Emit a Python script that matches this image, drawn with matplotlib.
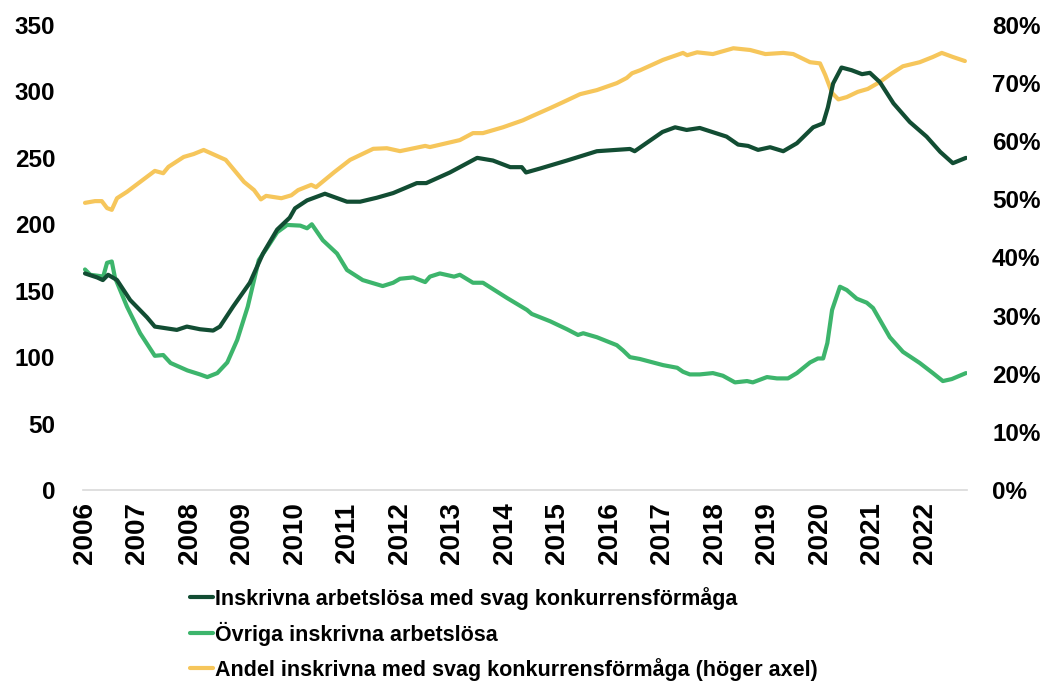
import matplotlib
matplotlib.use("Agg")
import matplotlib.pyplot as plt
from matplotlib.ticker import FuncFormatter

# dark green: inskrivna med svag konkurrensförmåga (tusental)
svag_t = [2006.0, 2006.23, 2006.34, 2006.44, 2006.61, 2006.86, 2007.18, 2007.33, 2007.75, 2007.94,
          2008.19, 2008.44, 2008.57, 2008.82, 2009.14, 2009.39, 2009.66, 2009.9, 2010.0, 2010.23,
          2010.57, 2010.99, 2011.24, 2011.56, 2011.87, 2012.32, 2012.5, 2012.95, 2013.47, 2013.77,
          2014.1, 2014.32, 2014.4, 2014.67, 2015.18, 2015.75, 2016.38, 2016.47, 2017.0, 2017.24,
          2017.46, 2017.71, 2018.22, 2018.44, 2018.63, 2018.82, 2019.05, 2019.3, 2019.56, 2019.87,
          2020.06, 2020.15, 2020.25, 2020.41, 2020.6, 2020.8, 2020.95, 2021.14, 2021.4, 2021.71,
          2022.03, 2022.29, 2022.53, 2022.78]
svag_v = [163, 160, 158, 162, 158, 143, 130, 123, 120.5, 123,
          121, 120, 123, 138, 156, 178, 196, 205, 212, 218,
          223, 217, 217, 220, 223.5, 231, 231, 239, 250, 248,
          243, 243, 239, 242, 248, 255, 256.7, 255, 269.5, 273,
          271, 272.5, 266, 260, 259, 256, 258, 255, 261, 273,
          276, 288, 306, 318, 316, 313, 314, 307, 291, 277,
          266, 254.5, 246, 250]

# light green: övriga inskrivna arbetslösa (tusental)
ovr_t = [2006.0, 2006.1, 2006.29, 2006.34, 2006.42, 2006.51, 2006.57, 2006.8, 2007.05, 2007.33,
         2007.49, 2007.63, 2007.95, 2008.19, 2008.33, 2008.52, 2008.71, 2008.9, 2009.1, 2009.31,
         2009.48, 2009.66, 2009.85, 2010.1, 2010.23, 2010.32, 2010.53, 2010.8, 2010.99, 2011.29,
         2011.67, 2011.87, 2012.0, 2012.25, 2012.48, 2012.57, 2012.76, 2013.03, 2013.14, 2013.39,
         2013.58, 2013.9, 2014.04, 2014.42, 2014.51, 2014.86, 2015.18, 2015.39, 2015.49, 2015.75,
         2016.13, 2016.25, 2016.38, 2016.57, 2017.01, 2017.28, 2017.39, 2017.52, 2017.71, 2017.96,
         2018.15, 2018.38, 2018.61, 2018.72, 2018.99, 2019.18, 2019.39, 2019.56, 2019.81, 2019.96,
         2020.06, 2020.14, 2020.23, 2020.38, 2020.51, 2020.7, 2020.89, 2021.01, 2021.33, 2021.58,
         2021.9, 2022.15, 2022.34, 2022.51, 2022.78]
ovr_v = [166, 162, 161, 159.6, 171, 172, 160, 138, 118, 101,
         101.6, 95.6, 90, 87, 85, 88, 96, 113, 138, 173,
         183, 194, 199.5, 199, 197, 200, 188, 178, 165.6, 158,
         153.5, 156, 159, 160, 156.5, 160.6, 163, 160.6, 162, 156,
         156, 148, 144.5, 135.5, 132.5, 127, 121, 116.7, 118, 115,
         109, 105, 100, 98.6, 94, 92, 89, 87, 87, 88,
         86, 81, 82, 81, 85, 84, 84, 88, 96, 99,
         99, 110.6, 135.5, 153, 150.5, 144, 141, 137, 115, 104,
         95.6, 88, 82, 83.5, 88]

# yellow: andel med svag konkurrensförmåga (%), höger axel
andel_t = [2006.0, 2006.19, 2006.32, 2006.42, 2006.51, 2006.61, 2006.8, 2007.05, 2007.33, 2007.49,
           2007.59, 2007.88, 2008.07, 2008.26, 2008.68, 2009.03, 2009.22, 2009.35, 2009.45, 2009.74,
           2009.93, 2010.06, 2010.31, 2010.4, 2010.75, 2011.05, 2011.49, 2011.75, 2012.0, 2012.48,
           2012.57, 2013.14, 2013.39, 2013.58, 2013.96, 2014.34, 2014.51, 2014.86, 2015.1, 2015.43,
           2015.75, 2016.13, 2016.32, 2016.42, 2016.57, 2017.01, 2017.39, 2017.47, 2017.66, 2017.96,
           2018.35, 2018.67, 2018.96, 2019.3, 2019.49, 2019.81, 2020.0, 2020.1, 2020.23, 2020.35,
           2020.51, 2020.72, 2020.91, 2021.14, 2021.37, 2021.58, 2021.9, 2022.15, 2022.32, 2022.53,
           2022.76]
andel_v = [49.4, 49.7, 49.7, 48.5, 48.2, 50.2, 51.3, 53, 54.9, 54.5,
           55.6, 57.3, 57.8, 58.5, 56.8, 53, 51.6, 50, 50.6, 50.2,
           50.7, 51.6, 52.5, 52.1, 54.7, 56.8, 58.7, 58.8, 58.3, 59.2,
           59, 60.2, 61.4, 61.4, 62.4, 63.6, 64.3, 65.7, 66.7, 68.1,
           68.8, 70, 70.9, 71.7, 72.2, 74, 75.2, 74.8, 75.3, 75,
           76, 75.7, 75, 75.2, 75, 73.6, 73.4, 71.4, 68.3, 67.2,
           67.6, 68.5, 69, 70.2, 71.7, 72.9, 73.6, 74.5, 75.2, 74.5,
           73.8]

years = list(range(2006, 2023))
left_ticks = [0, 50, 100, 150, 200, 250, 300, 350]
right_ticks = [0, 10, 20, 30, 40, 50, 60, 70, 80]

labels = ["Inskrivna arbetslösa med svag konkurrensförmåga",
          "Övriga inskrivna arbetslösa",
          "Andel inskrivna med svag konkurrensförmåga (höger axel)"]
colors = ["#124D33", "#3DB56C", "#F6C65B"]

plt.rcParams["font.family"] = ["Liberation Sans", "DejaVu Sans"]
plt.rcParams["font.weight"] = "bold"

fig = plt.figure(figsize=(10.5, 6.82), dpi=100)
ax = fig.add_axes([83 / 1050, 1 - 490 / 682, 884 / 1050, 465 / 682])
ax2 = ax.twinx()

l1, = ax.plot(svag_t, svag_v, color=colors[0], lw=3, solid_capstyle="round", zorder=3)
l2, = ax.plot(ovr_t, ovr_v, color=colors[1], lw=3, solid_capstyle="round", zorder=2)
l3, = ax2.plot(andel_t, andel_v, color=colors[2], lw=3, solid_capstyle="round")
ax.set_zorder(ax2.get_zorder() + 1)
ax.patch.set_visible(False)

ax.set_xlim(2005.962, 2022.8)
ax.set_ylim(0, 350)
ax2.set_ylim(0, 80)
ax.set_yticks(left_ticks)
ax2.set_yticks(right_ticks)
ax2.yaxis.set_major_formatter(FuncFormatter(lambda v, p: f"{int(v)}%"))
ax.set_xticks(years)
ax.set_xticklabels([str(y) for y in years], rotation=90, va="top", ha="center", fontsize=20)

for a in (ax, ax2):
    for s in a.spines.values():
        s.set_visible(False)
    a.tick_params(axis="y", length=0, labelsize=17.5)
ax.tick_params(axis="x", length=0, pad=9)
ax.spines["bottom"].set_visible(True)
ax.spines["bottom"].set_color("#D9D9D9")
ax.spines["bottom"].set_linewidth(1.2)
ax.tick_params(axis="y", pad=20)
ax2.tick_params(axis="y", pad=18)

fig.legend([l1, l2, l3], labels, loc="upper left",
           bbox_to_anchor=(190 / 1050, 1 - 587 / 682), frameon=False,
           prop={"family": "Liberation Sans", "weight": "bold", "size": 15.5},
           handlelength=1.05, handletextpad=0.1, labelspacing=0.55, borderpad=0, borderaxespad=0)

fig.savefig("out.png", dpi=100)
